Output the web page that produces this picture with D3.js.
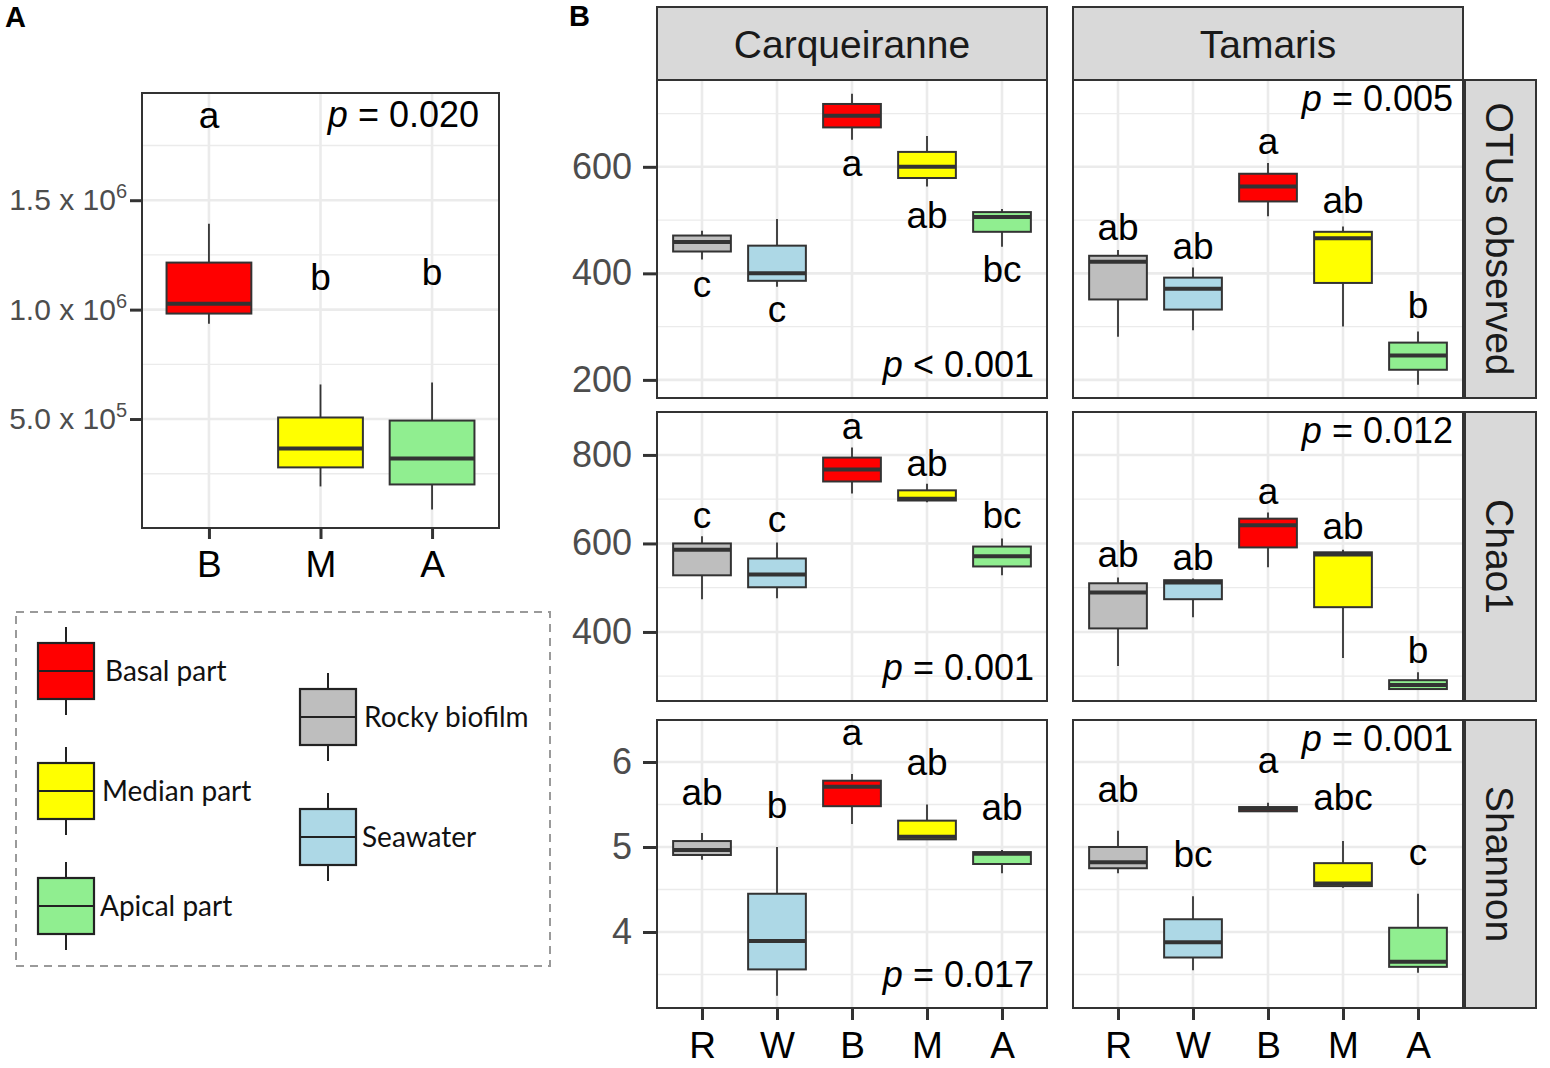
<!DOCTYPE html>
<html lang="en">
<head>
<meta charset="UTF-8">
<title>Abundance and alpha diversity boxplots</title>
<script src="https://d3js.org/d3.v7.min.js"></script>
<style>
  body { margin: 0; background: #fff; }
  svg { display: block; font-family: "Liberation Sans", Arial, sans-serif; }
  .tick text { fill: #4d4d4d; }
  .tick line { stroke: #333; stroke-width: 3px; }
</style>
</head>
<body>
<svg id="chart" width="1550" height="1068"></svg>
<script>
// ---- values ----
// one box = [lower whisker, q1, median, q3, upper whisker]
const groupsA = ["B", "M", "A"];
const statsA = [
  [0.936e6, 0.982e6, 1.027e6, 1.215e6, 1.393e6],
  [0.192e6, 0.279e6, 0.365e6, 0.507e6, 0.658e6],
  [0.087e6, 0.201e6, 0.320e6, 0.493e6, 0.667e6]
];
const lettersA = ["a", "b", "b"];
const letterYA = [1.831e6, 1.091e6, 1.114e6];
const pValueA = "= 0.020";
const ticksA = [5e5, 1e6, 1.5e6];
const tickLabelsA = [["5.0 x 10", "5"], ["1.0 x 10", "6"], ["1.5 x 10", "6"]];

const sites = ["Carqueiranne", "Tamaris"];
const metrics = ["OTUs observed", "Chao1", "Shannon"];
const groupsB = ["R", "W", "B", "M", "A"];

const otuCarq = [[426, 441, 459, 471, 480], [375, 386, 400, 452, 502], [651, 674, 696, 718, 737], [563, 579, 600, 628, 658], [450, 478, 506, 515, 521]];
const otuTam  = [[281, 351, 422, 433, 444], [293, 332, 371, 392, 411], [507, 535, 563, 587, 607], [300, 382, 466, 478, 488], [191, 219, 246, 270, 291]];
const chaoCarq = [[474, 528, 586, 600, 616], [476, 501, 530, 566, 602], [713, 740, 767, 794, 817], [693, 697, 701, 720, 735], [528, 548, 571, 593, 611]];
const chaoTam  = [[323, 408, 489, 510, 523], [433, 474, 512, 517, 521], [546, 591, 641, 656, 670], [341, 456, 575, 580, 586], [271, 271, 280, 291, 309]];
const shanCarq = [[4.85, 4.906, 4.965, 5.07, 5.165], [3.25, 3.56, 3.894, 4.45, 5.0], [5.27, 5.48, 5.71, 5.78, 5.86], [5.09, 5.09, 5.12, 5.31, 5.5], [4.69, 4.8, 4.92, 4.94, 4.965]];
const shanTam  = [[4.69, 4.75, 4.82, 5.0, 5.19], [3.55, 3.7, 3.88, 4.15, 4.42], [5.42, 5.42, 5.45, 5.47, 5.52], [4.52, 4.54, 4.57, 4.81, 5.07], [3.52, 3.59, 3.65, 4.05, 4.45]];

const lettersOtuCarq = ["c", "c", "a", "ab", "bc"];
const letterYOtuCarq = [356, 309, 583, 485, 383];
const lettersOtuTam = ["ab", "ab", "a", "ab", "b"];
const letterYOtuTam = [463, 427, 624, 513, 316];
const lettersChaoCarq = ["c", "c", "a", "ab", "bc"];
const letterYChaoCarq = [636, 625, 837, 753, 634];
const lettersChaoTam = ["ab", "ab", "a", "ab", "b"];
const letterYChaoTam = [546, 539, 690, 609, 329];
const lettersShanCarq = ["ab", "b", "a", "ab", "ab"];
const letterYShanCarq = [5.49, 5.34, 6.2, 5.85, 5.32];
const lettersShanTam = ["ab", "bc", "a", "abc", "c"];
const letterYShanTam = [5.53, 4.76, 5.87, 5.44, 4.79];

const pValuesCarq = ["< 0.001", "= 0.001", "= 0.017"];
const pValuesTam = ["= 0.005", "= 0.012", "= 0.001"];

const yLimitsA = [2e3, 1.99e6];
const yLimitsB = [[166, 763], [244, 897], [3.106, 6.494]];
const yTicksB = [[200, 400, 600], [400, 600, 800], [4, 5, 6]];

const legendLeft = ["Basal part", "Median part", "Apical part"];
const legendLeftGroups = ["B", "M", "A"];
const legendRight = ["Rocky biofilm", "Seawater"];
const legendRightGroups = ["R", "W"];

const fillByGroup = { R: "#bebebe", W: "#add8e6", B: "#ff0000", M: "#ffff00", A: "#90ee90" };

// ---- helpers ----
const svg = d3.select("#chart");
const INK = "#333333";

function minorTicks(ticks, lo, hi) {
  const step = ticks[1] - ticks[0];
  const out = [ticks[0] - step / 2];
  ticks.forEach(t => out.push(t + step / 2));
  return out.filter(v => v > lo && v < hi);
}

function drawGrid(g, x, y, groups, majors, minors) {
  const [x0, x1] = x.range();
  const [y1, y0] = y.range();
  g.selectAll(".minor").data(minors).join("line")
    .attr("x1", x0).attr("x2", x1)
    .attr("y1", d => y(d)).attr("y2", d => y(d))
    .attr("stroke", "#ebebeb").attr("stroke-width", 1.3);
  g.selectAll(".majorY").data(majors).join("line")
    .attr("x1", x0).attr("x2", x1)
    .attr("y1", d => y(d)).attr("y2", d => y(d))
    .attr("stroke", "#ebebeb").attr("stroke-width", 2.6);
  g.selectAll(".majorX").data(groups).join("line")
    .attr("x1", d => x(d)).attr("x2", d => x(d))
    .attr("y1", y0).attr("y2", y1)
    .attr("stroke", "#ebebeb").attr("stroke-width", 2.6);
}

function drawBox(g, cx, w, y, s, fill) {
  g.append("line").attr("x1", cx).attr("x2", cx).attr("y1", y(s[0])).attr("y2", y(s[4]))
    .attr("stroke", INK).attr("stroke-width", 1.8);
  g.append("rect").attr("x", cx - w / 2).attr("width", w)
    .attr("y", y(s[3])).attr("height", Math.max(y(s[1]) - y(s[3]), 0))
    .attr("fill", fill).attr("stroke", INK).attr("stroke-width", 2);
  g.append("line").attr("x1", cx - w / 2).attr("x2", cx + w / 2)
    .attr("y1", y(s[2])).attr("y2", y(s[2]))
    .attr("stroke", INK).attr("stroke-width", 4);
}

function pText(g, x, y, value, size) {
  const t = g.append("text").attr("x", x).attr("y", y).attr("text-anchor", "end")
    .attr("font-size", size).attr("fill", "#000");
  t.append("tspan").attr("font-style", "italic").text("p");
  t.append("tspan").text(" " + value);
}

// ---- panel A ----
{
  const x0 = 142, x1 = 499, y0 = 93, y1 = 528;
  const x = d3.scalePoint().domain(groupsA).range([x0, x1]).padding(0.6);
  const y = d3.scaleLinear().domain(yLimitsA).range([y1, y0]);
  const g = svg.append("g");
  g.append("rect").attr("x", x0).attr("y", y0).attr("width", x1 - x0).attr("height", y1 - y0).attr("fill", "#fff");
  drawGrid(g, x, y, groupsA, ticksA, minorTicks(ticksA, yLimitsA[0], yLimitsA[1]));
  const w = x.step() * 0.76;
  groupsA.forEach((k, i) => drawBox(g, x(k), w, y, statsA[i], fillByGroup[k]));
  groupsA.forEach((k, i) => g.append("text").attr("x", x(k)).attr("y", y(letterYA[i]))
    .attr("text-anchor", "middle").attr("font-size", 37).text(lettersA[i]));
  pText(g, x1 - 20, 127, pValueA, 36);
  g.append("rect").attr("x", x0).attr("y", y0).attr("width", x1 - x0).attr("height", y1 - y0)
    .attr("fill", "none").attr("stroke", INK).attr("stroke-width", 2);

  const ya = g.append("g").attr("transform", `translate(${x0},0)`)
    .call(d3.axisLeft(y).tickValues(ticksA).tickSize(12).tickPadding(3))
    .attr("font-family", null).attr("font-size", null);
  ya.select(".domain").remove();
  ya.selectAll(".tick text").each(function (d, i) {
    const t = d3.select(this).text(null).attr("font-size", 30);
    t.append("tspan").text(tickLabelsA[i][0]);
    t.append("tspan").attr("font-size", 20).attr("dy", "-0.6em").text(tickLabelsA[i][1]);
  });
  const xa = g.append("g").attr("transform", `translate(0,${y1})`)
    .call(d3.axisBottom(x).tickSize(11).tickPadding(12))
    .attr("font-family", null).attr("font-size", null);
  xa.select(".domain").remove();
  xa.selectAll(".tick text").attr("font-size", 37).style("fill", "#000");

  svg.append("text").attr("x", 5).attr("y", 27).attr("font-size", 29).attr("font-weight", "bold").text("A");
}

// ---- legend ----
{
  const g = svg.append("g").attr("font-family", "Lato, 'Open Sans', sans-serif");
  g.append("rect").attr("x", 16).attr("y", 612).attr("width", 534).attr("height", 354)
    .attr("fill", "none").attr("stroke", "#9a9a9a").attr("stroke-width", 2).attr("stroke-dasharray", "8,6");
  function key(cx, cy, grp, label, tx) {
    g.append("line").attr("x1", cx).attr("x2", cx).attr("y1", cy - 44).attr("y2", cy + 44)
      .attr("stroke", "#222").attr("stroke-width", 2);
    g.append("rect").attr("x", cx - 28).attr("width", 56).attr("y", cy - 28).attr("height", 56)
      .attr("fill", fillByGroup[grp]).attr("stroke", "#222").attr("stroke-width", 2.2);
    g.append("line").attr("x1", cx - 28).attr("x2", cx + 28).attr("y1", cy).attr("y2", cy)
      .attr("stroke", "#222").attr("stroke-width", 2.2);
    g.append("text").attr("x", tx).attr("y", cy + 10).attr("font-size", 28).attr("fill", "#111").text(label);
  }
  const leftY = [671, 791, 906];
  legendLeft.forEach((l, i) => key(66, leftY[i], legendLeftGroups[i], l, [105, 102, 100][i]));
  const rightY = [717, 837];
  legendRight.forEach((l, i) => key(328, rightY[i], legendRightGroups[i], l, [364, 362][i]));
}

// ---- panel B ----
{
  svg.append("text").attr("x", 569).attr("y", 26).attr("font-size", 29).attr("font-weight", "bold").text("B");
  const colX = [657, 1073], panelW = 390;
  const rowY = [[80, 398], [412, 701], [720, 1008]];
  const stripTop = 7, stripRight = [1465, 1536];
  const statsB = [[otuCarq, otuTam], [chaoCarq, chaoTam], [shanCarq, shanTam]];
  const lettersB = [[lettersOtuCarq, lettersOtuTam], [lettersChaoCarq, lettersChaoTam], [lettersShanCarq, lettersShanTam]];
  const letterYB = [[letterYOtuCarq, letterYOtuTam], [letterYChaoCarq, letterYChaoTam], [letterYShanCarq, letterYShanTam]];
  const pB = [pValuesCarq, pValuesTam];

  // column strips
  sites.forEach((s, c) => {
    svg.append("rect").attr("x", colX[c]).attr("y", stripTop).attr("width", panelW).attr("height", rowY[0][0] - stripTop)
      .attr("fill", "#d9d9d9").attr("stroke", INK).attr("stroke-width", 2);
    svg.append("text").attr("x", colX[c] + panelW / 2).attr("y", (stripTop + rowY[0][0]) / 2)
      .attr("dy", "0.36em").attr("text-anchor", "middle").attr("font-size", 39).attr("fill", "#1a1a1a").text(s);
  });

  metrics.forEach((m, r) => {
    const [ry0, ry1] = rowY[r];
    const y = d3.scaleLinear().domain(yLimitsB[r]).range([ry1, ry0]);
    const minors = minorTicks(yTicksB[r], yLimitsB[r][0], yLimitsB[r][1]);

    // row strip
    svg.append("rect").attr("x", stripRight[0]).attr("y", ry0).attr("width", stripRight[1] - stripRight[0]).attr("height", ry1 - ry0)
      .attr("fill", "#d9d9d9").attr("stroke", INK).attr("stroke-width", 2);
    svg.append("text").attr("transform", `translate(${(stripRight[0] + stripRight[1]) / 2},${(ry0 + ry1) / 2}) rotate(90)`)
      .attr("dy", "0.36em").attr("text-anchor", "middle").attr("font-size", 39).attr("fill", "#1a1a1a").text(m);

    sites.forEach((s, c) => {
      const x = d3.scalePoint().domain(groupsB).range([colX[c], colX[c] + panelW]).padding(0.6);
      const g = svg.append("g");
      g.append("rect").attr("x", colX[c]).attr("y", ry0).attr("width", panelW).attr("height", ry1 - ry0).attr("fill", "#fff");
      drawGrid(g, x, y, groupsB, yTicksB[r], minors);
      const w = x.step() * 0.77;
      groupsB.forEach((k, i) => drawBox(g, x(k), w, y, statsB[r][c][i], fillByGroup[k]));
      groupsB.forEach((k, i) => g.append("text").attr("x", x(k)).attr("y", y(letterYB[r][c][i]))
        .attr("text-anchor", "middle").attr("font-size", 37).attr("fill", "#000").text(lettersB[r][c][i]));
      if (c === 0) pText(g, colX[c] + panelW - 13, ry1 - 21, pB[c][r], 36);
      else pText(g, colX[c] + panelW - 10, ry0 + 31, pB[c][r], 36);
      g.append("rect").attr("x", colX[c]).attr("y", ry0).attr("width", panelW).attr("height", ry1 - ry0)
        .attr("fill", "none").attr("stroke", INK).attr("stroke-width", 2);

      if (c === 0) {
        const ya = g.append("g").attr("transform", `translate(${colX[c]},0)`)
          .call(d3.axisLeft(y).tickValues(yTicksB[r]).tickSize(14).tickPadding(11).tickFormat(d3.format("d")))
          .attr("font-family", null).attr("font-size", null);
        ya.select(".domain").remove();
        ya.selectAll(".tick text").attr("font-size", 36);
      }
      if (r === metrics.length - 1) {
        const xa = g.append("g").attr("transform", `translate(0,${ry1})`)
          .call(d3.axisBottom(x).tickSize(12).tickPadding(12))
          .attr("font-family", null).attr("font-size", null);
        xa.select(".domain").remove();
        xa.selectAll(".tick text").attr("font-size", 37).style("fill", "#000");
      }
    });
  });
}
</script>
</body>
</html>
